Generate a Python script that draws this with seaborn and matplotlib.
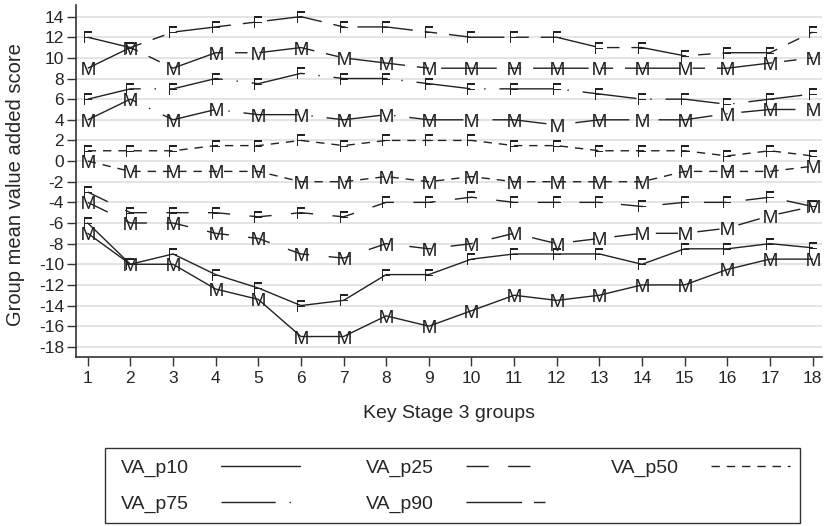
import numpy as np
import pandas as pd
import matplotlib
matplotlib.use("Agg")
import matplotlib.pyplot as plt
import seaborn as sns
from matplotlib.lines import Line2D
from matplotlib.patches import Rectangle

groups = list(range(1, 19))
p10_F = [-6, -10, -9, -11, -12.3, -14, -13.5, -11, -11, -9.5, -9, -9, -9, -10, -8.5, -8.5, -8, -8.4]
p10_M = [-7, -10, -10, -12.4, -13.4, -17, -17, -15, -16, -14.5, -13, -13.5, -13, -12, -12, -10.5, -9.5, -9.5]
p25_F = [-3, -5, -5, -5, -5.4, -5, -5.4, -4, -4, -3.5, -4, -4, -4, -4.4, -4, -4, -3.5, -4.4]
p25_M = [-4, -6, -6, -7, -7.5, -9, -9.4, -8, -8.5, -8, -7, -8, -7.5, -7, -7, -6.5, -5.3, -4.4]
p50_F = [1, 1, 1, 1.5, 1.5, 2, 1.5, 2, 2, 2, 1.5, 1.5, 1, 1, 1, 0.5, 1, 0.5]
p50_M = [0, -1, -1, -1, -1, -2, -2, -1.5, -2, -1.5, -2, -2, -2, -2, -1, -1, -1, -0.5]
p75_F = [6, 7, 7, 8, 7.5, 8.5, 8, 8, 7.5, 7, 7, 7, 6.5, 6, 6, 5.5, 6, 6.5]
p75_M = [4, 6, 4, 5, 4.5, 4.5, 4, 4.5, 4, 4, 4, 3.5, 4, 4, 4, 4.6, 5, 5]
p90_F = [12, 11, 12.5, 13, 13.5, 14, 13, 13, 12.5, 12, 12, 12, 11, 11, 10.2, 10.5, 10.5, 12.5]
p90_M = [9, 11, 9, 10.5, 10.5, 11, 10, 9.5, 9, 9, 9, 9, 9, 9, 9, 9, 9.5, 10]

series_names = ["VA_p10", "VA_p25", "VA_p50", "VA_p75", "VA_p90"]
genders = ["F", "M"]
yticks = list(range(-18, 15, 2))

series = {
    ("VA_p10", "F"): p10_F, ("VA_p10", "M"): p10_M,
    ("VA_p25", "F"): p25_F, ("VA_p25", "M"): p25_M,
    ("VA_p50", "F"): p50_F, ("VA_p50", "M"): p50_M,
    ("VA_p75", "F"): p75_F, ("VA_p75", "M"): p75_M,
    ("VA_p90", "F"): p90_F, ("VA_p90", "M"): p90_M,
}
rows = []
for (s, g), vals in series.items():
    for x, v in zip(groups, vals):
        rows.append({"group": x, "series": s, "gender": g, "value": v})
df = pd.DataFrame(rows)

sns.set_theme(style="white")
plt.rcParams["font.family"] = ["Liberation Sans", "DejaVu Sans"]
plt.rcParams["mathtext.fontset"] = "custom"
plt.rcParams["mathtext.rm"] = "Liberation Sans"

styles = {
    "VA_p10": "-",
    "VA_p25": (0, (16, 14)),
    "VA_p50": (0, (6, 5)),
    "VA_p75": (0, (39, 10, 1, 10)),
    "VA_p90": (0, (40, 8.6, 9, 8.6)),
}
msize = {"F": 8.3, "M": 9.4}
col = "#222222"

fig = plt.figure(figsize=(8.24, 5.26), dpi=100)
ax = fig.add_axes([0.092, 0.321, 0.906, 0.669])

for ytk in yticks:
    ax.axhline(ytk, color="#dcdcdc", lw=1.1, zorder=0)

for s in series_names:
    for g in genders:
        sub = df[(df.series == s) & (df.gender == g)]
        sns.lineplot(data=sub, x="group", y="value", ax=ax, color=col,
                     linestyle=styles[s], lw=1.0,
                     marker=r"$\mathrm{%s}$" % g, markersize=msize[g],
                     markerfacecolor=col, markeredgecolor=col,
                     markeredgewidth=0, legend=False, zorder=3)

ax.set_xlim(0.72, 18.23)
ax.set_ylim(-19.0, 15.1)
ax.set_xticks(groups)
ax.set_yticks(yticks)
ax.set_xticklabels([str(g) for g in groups], fontsize=12.5)
ax.set_yticklabels([str(t) for t in yticks], fontsize=12.5)
ax.tick_params(axis="both", direction="out", length=6.5, width=1, color="#333333",
               left=True, bottom=True)
ax.tick_params(axis="y", pad=2)
ax.tick_params(axis="x", pad=3.5)
for sp in ["top", "right"]:
    ax.spines[sp].set_visible(False)
for sp in ["left", "bottom"]:
    ax.spines[sp].set_color("#333333")
    ax.spines[sp].set_linewidth(1.2)
ax.set_xlabel("Key Stage 3 groups", fontsize=14)
ax.set_ylabel("Group mean value added score", fontsize=14.5)
ax.xaxis.set_label_coords(0.5, -0.135)
ax.yaxis.set_label_coords(-0.068, 0.49)

order = ["VA_p10", "VA_p75", "VA_p25", "VA_p90", "VA_p50"]
handles = [Line2D([0], [0], color=col, lw=1.0, linestyle=styles[s]) for s in order]
fig.legend(handles, order, loc="upper left", bbox_to_anchor=(0.1468, 0.127),
           ncol=3, frameon=False, markerfirst=False, fontsize=14,
           handlelength=4.06, handletextpad=1.65, columnspacing=3.4,
           labelspacing=0.95, borderpad=0, borderaxespad=0)
fig.add_artist(Rectangle((0.1274, 0.0057), 0.8435, 0.1426, transform=fig.transFigure,
                         fill=False, edgecolor="#333333", lw=1.0))

fig.savefig("out.png", dpi=100)
